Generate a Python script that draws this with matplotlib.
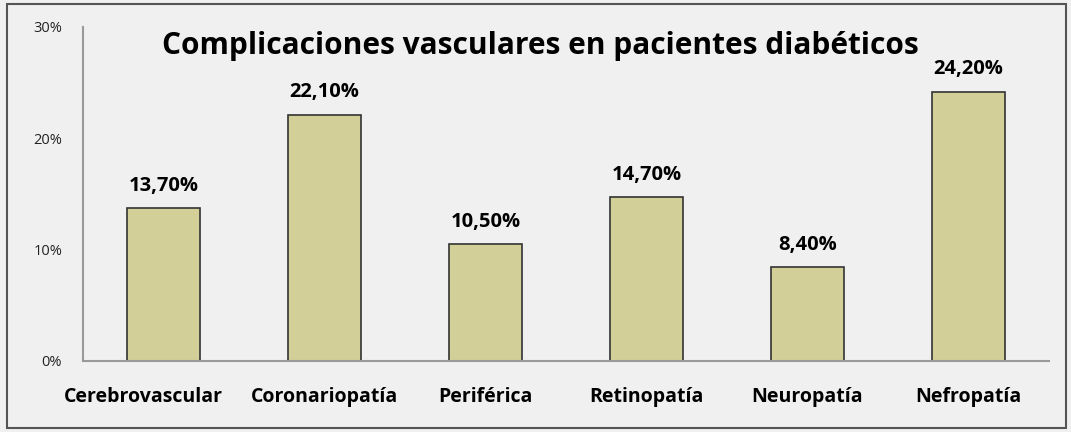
import matplotlib
matplotlib.use("Agg")
import matplotlib.pyplot as plt
import matplotlib.transforms as mtransforms
from matplotlib.patches import Rectangle

categories = ["Cerebrovascular", "Coronariopatía", "Periférica", "Retinopatía", "Neuropatía", "Nefropatía"]
values = [13.7, 22.1, 10.5, 14.7, 8.4, 24.2]
value_labels = ["13,70%", "22,10%", "10,50%", "14,70%", "8,40%", "24,20%"]
yticks = [0, 10, 20, 30]
ytick_labels = ["0%", "10%", "20%", "30%"]
title = "Complicaciones vasculares en pacientes diabéticos"

W, H = 1071, 432
fig = plt.figure(figsize=(W / 100, H / 100), dpi=100)
fig.patch.set_facecolor("#f0f0f0")
fig.patches.append(Rectangle((7 / W, 4 / H), 1059 / W, 424 / H, transform=fig.transFigure,
                             fill=False, edgecolor="#555555", linewidth=1.5))

ax = fig.add_axes([83 / W, (H - 361) / H, 966 / W, 334 / H])
ax.set_facecolor("#f0f0f0")
x = range(len(categories))
ax.bar(x, values, width=0.45, color="#d3cf99", edgecolor="#333333", linewidth=1.2)
ax.set_xlim(-0.5, len(categories) - 0.5)
ax.set_ylim(0, 30)
ax.set_yticks(yticks)
ax.set_yticklabels(ytick_labels, fontsize=10.5, family="Open Sans", color="#222222")
ax.set_xticks(list(x))
ax.set_xticklabels(categories, fontsize=14, fontweight="bold", family="Open Sans")
ax.tick_params(axis="y", length=0, pad=15)
ax.tick_params(axis="x", length=0, pad=19)
for s in ["top", "right"]:
    ax.spines[s].set_visible(False)
for s in ["left", "bottom"]:
    ax.spines[s].set_color("#999999")
    ax.spines[s].set_linewidth(1.5)

# first category label sits a little to the left in the reference
first = ax.get_xticklabels()[0]
first.set_transform(first.get_transform() + mtransforms.ScaledTranslation(-20 / 100, 0, fig.dpi_scale_trans))

for i, (v, lab) in enumerate(zip(values, value_labels)):
    ax.annotate(lab, (i, v), xytext=(0, 9), textcoords="offset points", ha="center", va="bottom",
                fontsize=14.5, fontweight="bold", family="Open Sans")

fig.text(540 / W, 1 - 46 / H, title, ha="center", va="center", fontsize=21.5, fontweight="bold",
         family="Open Sans")

fig.savefig("out.png", dpi=100, facecolor=fig.get_facecolor())
